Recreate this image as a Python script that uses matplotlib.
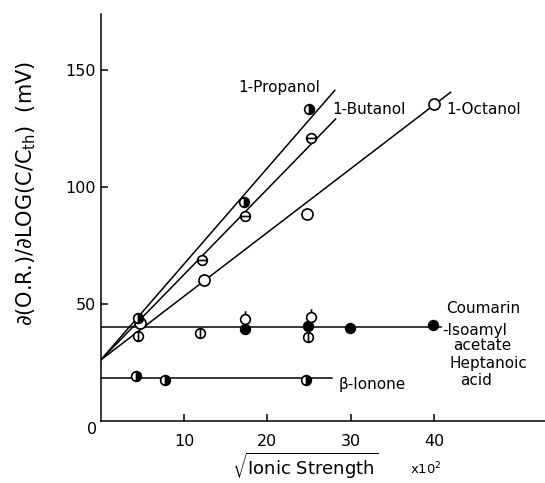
import numpy as np
import matplotlib
matplotlib.use("Agg")
import matplotlib.pyplot as plt
from matplotlib.path import Path

# measured points (sqrt(ionic strength) x10^2, mV)
propanol_x = [4.5, 17.2, 25.0]
propanol_y = [43.8, 93.7, 133.3]
butanol_x = [12.2, 17.3, 25.2]
butanol_y = [68.9, 87.5, 120.9]
octanol_x = [4.75, 12.4, 24.8, 40.0]
octanol_y = [41.6, 60.0, 88.6, 135.5]
coumarin_x = [17.3, 24.9, 29.9, 39.9]
coumarin_y = [39.2, 40.6, 39.6, 40.9]
isoamyl_x = [4.5, 11.9, 24.9]
isoamyl_y = [36.3, 37.3, 35.9]
heptanoic_x = [17.3, 25.2]
heptanoic_y = [43.5, 44.2]
ionone_x = [4.25, 7.67, 24.7]
ionone_y = [19.1, 17.3, 17.4]

# hand drawn fit lines: intercept, slope, x end
fit_intercept = 25.9
fit_slope = {"propanol": 4.11, "butanol": 3.66, "octanol": 2.73}
fit_xend = {"propanol": 28.1, "butanol": 28.2, "octanol": 42.0}
flat_level = {"coumarin": 39.9, "ionone": 18.4}
flat_xend = {"coumarin": 40.9, "ionone": 27.8}

xticks = [10, 20, 30, 40]
yticks = [50, 100, 150]

plt.rcParams['font.family'] = 'DejaVu Sans'

# custom markers
circ = Path.unit_circle()
hbar = Path([(-1, 0), (1, 0)], [Path.MOVETO, Path.LINETO])
vbar = Path([(0, -1), (0, 1)], [Path.MOVETO, Path.LINETO])
stem = Path([(0, 1), (0, 1.7)], [Path.MOVETO, Path.LINETO])
m_hbar = Path.make_compound_path(circ, hbar)
m_vbar = Path.make_compound_path(circ, vbar)
m_stem = Path.make_compound_path(circ, stem)

W, H = 545, 483
fig = plt.figure(figsize=(W / 100, H / 100), dpi=100)
ax = fig.add_axes([100.7 / W, (H - 420.5) / H, 444.3 / W, 406.5 / H])

lw = 1.1
for k in ["propanol", "butanol", "octanol"]:
    xx = np.array([0, fit_xend[k]])
    ax.plot(xx, fit_intercept + fit_slope[k] * xx, color='black', lw=lw, zorder=2)
for k in ["coumarin", "ionone"]:
    ax.plot([0, flat_xend[k]], [flat_level[k], flat_level[k]], color='black', lw=lw, zorder=2)

ms = 7
mew = 1.2
ax.plot(coumarin_x, coumarin_y, 'o', ms=ms, mfc='black', mec='black', mew=mew, zorder=3)
ax.plot(octanol_x, octanol_y, 'o', ms=ms + 1, mfc='white', mec='black', mew=mew, zorder=3)
ax.plot(propanol_x, propanol_y, 'o', ms=ms, fillstyle='right', mfc='black',
        mfcalt='white', mec='black', mew=mew, zorder=3)
ax.plot(ionone_x, ionone_y, 'o', ms=ms, fillstyle='right', mfc='black',
        mfcalt='white', mec='black', mew=mew, zorder=3)
ax.plot(butanol_x, butanol_y, ls='none', marker=m_hbar, ms=ms, mfc='white',
        mec='black', mew=mew, zorder=3)
ax.plot(isoamyl_x, isoamyl_y, ls='none', marker=m_vbar, ms=ms, mfc='white',
        mec='black', mew=mew, zorder=3)
ax.plot(heptanoic_x, heptanoic_y, ls='none', marker=m_stem, ms=ms * 1.7, mfc='white',
        mec='black', mew=mew, zorder=3)

ax.set_xlim(0, 444.3 / 8.33)
ax.set_ylim(0, 406.5 / 2.335)
for s in ['top', 'right']:
    ax.spines[s].set_visible(False)
for s in ['left', 'bottom']:
    ax.spines[s].set_linewidth(1.1)
ax.set_xticks(xticks)
ax.set_yticks(yticks)
ax.tick_params(axis='x', direction='in', length=5, width=1.1, pad=9.5, labelsize=11.5)
ax.tick_params(axis='y', direction='in', length=5, width=1.1, pad=3.5, labelsize=11.5)

fs = 11
ax.text(16.5, 142.8, "1-Propanol", fontsize=fs, ha='left', va='center')
ax.text(27.8, 133.0, "1-Butanol", fontsize=fs, ha='left', va='center')
ax.text(41.5, 133.0, "1-Octanol", fontsize=fs, ha='left', va='center')
ax.text(28.6, 15.5, "β-Ionone", fontsize=fs, ha='left', va='center')
ax.text(41.5, 47.8, "Coumarin", fontsize=fs, ha='left', va='center')
ax.text(41.0, 38.5, "-Isoamyl", fontsize=fs, ha='left', va='center')
ax.text(42.3, 32.0, "acetate", fontsize=fs, ha='left', va='center')
ax.text(41.9, 24.2, "Heptanoic", fontsize=fs, ha='left', va='center')
ax.text(43.2, 17.0, "acid", fontsize=fs, ha='left', va='center')

fig.text(91.7 / W, 1 - 430 / H, "0", fontsize=11.5, ha='center', va='center')
fig.text(26 / W, 1 - 193.5 / H, r"∂(O.R.)/∂LOG(C/C$_{\mathrm{th}}$)  (mV)",
         fontsize=15, rotation=90, ha='center', va='center')
fig.text(305 / W, 1 - 466 / H, r"$\sqrt{\mathrm{Ionic\ Strength}}$",
         fontsize=13, ha='center', va='center')
fig.text(425.5 / W, 1 - 469 / H, r"x10$^{2}$", fontsize=9.5, ha='center', va='center')

fig.savefig("out.png", dpi=100)
